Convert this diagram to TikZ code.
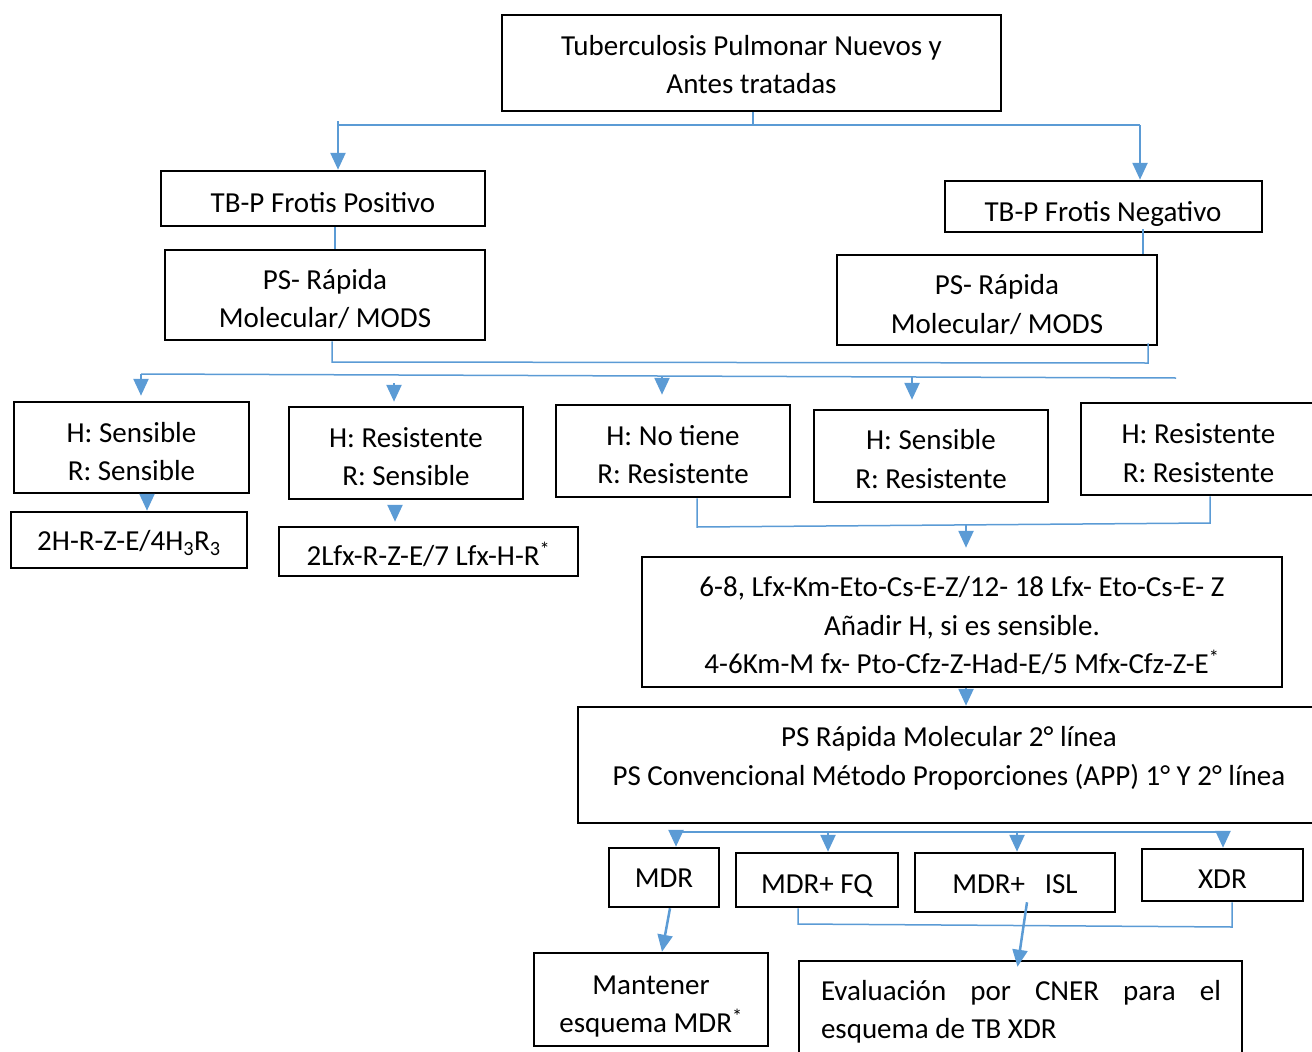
\documentclass[tikz,border=0pt]{standalone}
\usepackage{fontspec}
\setmainfont{Carlito}
\usetikzlibrary{arrows.meta,calc}
\definecolor{lb}{HTML}{5B9BD5}
\begin{document}
\begin{tikzpicture}[x=1pt,y=-1pt,
  box/.style={draw, line width=2.5pt, inner sep=0pt},
  txt/.style={inner sep=0pt, align=center, font=\fontsize{29}{38.5}\selectfont},
  ln/.style={draw=lb, line width=1.5pt},
  arr/.style={draw=lb, line width=2.5pt, -{Triangle[width=15pt,length=17pt]}}]
\useasboundingbox (0,0) rectangle (1312,1052);
\clip (0,0) rectangle (1312,1052);

% boxes and their texts
\node[box, minimum width=499pt, minimum height=96pt] (top) at (751.5,63) {};
\node[txt] (topt) at ([yshift=-1.5pt]top.center) {Tuberculosis Pulmonar Nuevos y\\Antes tratadas};

\node[box, minimum width=324pt, minimum height=55pt] (pos) at (323,198.5) {};
\node[txt] (post) at ([yshift=-4pt]pos.center) {TB-P Frotis Positivo};

\node[box, minimum width=320pt, minimum height=90pt] (psl) at (325,295) {};
\node[txt] (pslt) at ([yshift=-4pt]psl.center) {PS- Rápida\\Molecular/ MODS};

\node[box, minimum width=317pt, minimum height=51pt] (neg) at (1103.5,206.5) {};
\begin{scope}
  \clip (neg.north west) rectangle (neg.south east);
  \node[txt] (negt) at (1103,214) {TB-P Frotis Negativo};
\end{scope}

\node[box, minimum width=320pt, minimum height=90pt] (psr) at (997,300) {};
\node[txt] (psrt) at ([yshift=-4.5pt]psr.center) {PS- Rápida\\Molecular/ MODS};

\node[box, minimum width=235pt, minimum height=91pt] (A) at (131.5,447.5) {};
\node[txt] (At) at ([yshift=-4pt]A.center) {H: Sensible\\R: Sensible};
\node[box, minimum width=234pt, minimum height=92pt] (B) at (406,453) {};
\node[txt] (Bt) at ([yshift=-3.5pt]B.center) {H: Resistente\\R: Sensible};
\node[box, minimum width=234pt, minimum height=92pt] (C) at (673,451) {};
\node[txt] (Ct) at ([yshift=-3.5pt]C.center) {H: No tiene\\R: Resistente};
\node[box, minimum width=234pt, minimum height=92pt] (D) at (931,456) {};
\node[txt] (Dt) at ([yshift=-3pt]D.center) {H: Sensible\\R: Resistente};
\node[box, minimum width=235pt, minimum height=92pt] (E) at (1198.5,449) {};
\node[txt] (Et) at ([yshift=-4pt]E.center) {H: Resistente\\R: Resistente};

\node[box, minimum width=236pt, minimum height=56pt] (F) at (129,540) {};
\node[txt] (Ft) at ([yshift=-3pt]F.center) {2H-R-Z-E/4H\textsubscript{3}R\textsubscript{3}};
\node[box, minimum width=299pt, minimum height=49pt] (G) at (428.5,551.5) {};
\node[txt] (Gt) at ([yshift=-3pt]G.center) {2Lfx-R-Z-E/7 Lfx-H-R\textsuperscript{*}};

\node[box, minimum width=640pt, minimum height=130pt] (H) at (962,622) {};
\node[txt] (Ht) at ([yshift=-4pt]H.center) {6-8, Lfx-Km-Eto-Cs-E-Z/12- 18 Lfx- Eto-Cs-E- Z\\Añadir H, si es sensible.\\4-6Km-M fx- Pto-Cfz-Z-Had-E/5 Mfx-Cfz-Z-E\textsuperscript{*}};

\node[box, minimum width=742pt, minimum height=116pt] (I) at (949,765) {};
\node[txt] (It) at (949,758.5) {PS Rápida Molecular 2° línea\\PS Convencional Método Proporciones (APP) 1° Y 2° línea};

\node[box, minimum width=110pt, minimum height=59pt] (mdr) at (664,877.5) {};
\node[txt] (mdrt) at ([yshift=-1pt]mdr.center) {MDR};
\node[box, minimum width=162pt, minimum height=54pt] (fq) at (817,880) {};
\node[txt] (fqt) at ([yshift=-6pt]fq.center) {MDR+ FQ};
\node[box, minimum width=200pt, minimum height=59pt] (isl) at (1015,882.5) {};
\node[txt] (islt) at ([yshift=-2pt]isl.center) {MDR+\ \ \ ISL};
\node[box, minimum width=161pt, minimum height=52pt] (xdr) at (1222.5,875) {};
\node[txt] (xdrt) at ([yshift=-4pt]xdr.center) {XDR};

\node[box, minimum width=234pt, minimum height=93pt] (man) at (651,999.5) {};
\node[txt] (mant) at ([yshift=-7pt]man.center) {Mantener\\esquema MDR\textsuperscript{*}};
\node[box, minimum width=443pt, minimum height=115pt] (ev) at (1020.5,1018.5) {};
\node[txt, text width=400pt, align=justify, anchor=north] (evt) at (1021,980) {Evaluación por CNER para el\linebreak esquema de TB XDR};

% connectors level 1
\coordinate (t1) at (753,125);
\coordinate (tl) at (338,125);
\coordinate (tr) at (1140,125);
\draw[ln] (top.south -| t1) -- (t1);
\draw[ln] (tl) -- (tr);
\draw[arr] ([yshift=4pt]tl) -- (tl |- pos.north);
\draw[arr] (tr) -- (tr |- neg.north);

\draw[ln] ([xshift=12pt]pos.south) -- ([xshift=10pt]psl.north);
\draw[ln] ([xshift=39.5pt,yshift=4pt]neg.south) -- ([xshift=146pt]psr.north);

% collecting bus
\coordinate (m1) at (332,362);
\coordinate (m2) at (1148,363);
\draw[ln] ([xshift=7pt]psl.south) -- (m1) -- (m2) -- ([xshift=151pt,yshift=3pt]psr.south);

% distribution bus
\coordinate (b1) at (141,374);
\coordinate (b2) at (1176,378);
\draw[ln] (b1) -- (b2);
\coordinate (bB) at (394,383);
\coordinate (bC) at (662,376);
\coordinate (bD) at (912,377);
\draw[arr] (b1) -- ([yshift=5pt]b1 |- A.north);
\draw[arr] (bB) -- ([yshift=4pt]bB |- B.north);
\draw[arr] (bC) -- ([yshift=9pt]bC |- C.north);
\draw[arr] (bD) -- ([yshift=9pt]bD |- D.north);

\draw[arr] ([xshift=15.5pt]A.south) -- ([xshift=18pt]F.north);
\draw[arr] ([xshift=-11pt,yshift=-5pt]B.south) -- ([xshift=-33.5pt,yshift=4pt]G.north);

% C and E to H
\coordinate (c1) at (697,527);
\coordinate (c2) at (1210,523);
\coordinate (c3) at (966,525);
\draw[ln] ([xshift=24pt]C.south) -- (c1) -- (c2) -- ([xshift=11.5pt]E.south);
\draw[arr] (c3) -- ([yshift=8pt]c3 |- H.north);

\draw[arr] ([xshift=4pt]H.south) -- ([xshift=17pt]I.north);

% bus to result boxes
\coordinate (r1) at (676,832);
\coordinate (r2) at (1223,832);
\coordinate (rq) at (828,833);
\coordinate (ri) at (1017,833);
\draw[ln] (r1) -- (r2);
\draw[arr] (r1) -- (r1 |- mdr.north);
\draw[arr] (rq) -- (rq |- fq.north);
\draw[arr] (ri) -- (ri |- isl.north);
\draw[arr] (r2) -- (r2 |- xdr.north);

\draw[arr] ([xshift=6pt]mdr.south) -- ([xshift=11pt]man.north);

\coordinate (q1) at (798,924);
\coordinate (q2) at (1232,927);
\draw[ln] ([xshift=-19pt]fq.south) -- (q1) -- (q2) -- ([xshift=9.5pt]xdr.south);
\draw[arr] ([xshift=12pt,yshift=11pt]isl.south) -- ([xshift=-3pt,yshift=-7pt]ev.north);
\end{tikzpicture}
\end{document}
